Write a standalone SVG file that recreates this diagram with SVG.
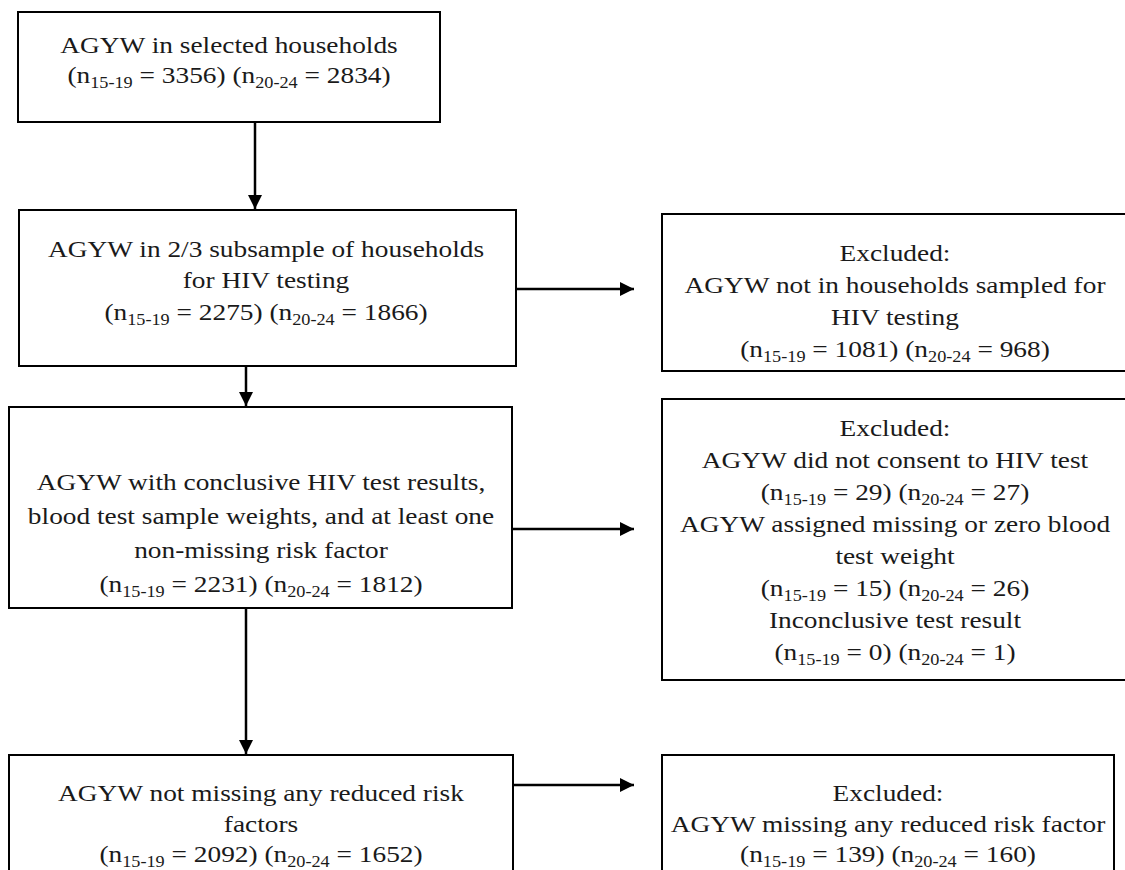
<svg xmlns="http://www.w3.org/2000/svg" width="1125" height="870" viewBox="0 0 1125 870">
<defs>
<marker id="ah" markerWidth="14" markerHeight="14" refX="14" refY="7" orient="auto" markerUnits="userSpaceOnUse">
<path d="M0,0 L14,7 L0,14 Z" fill="#000"/>
</marker>
<style>
.box{fill:#fff;stroke:#000;stroke-width:2}
.t{font-family:"Liberation Serif","Times New Roman",serif;font-size:24px;fill:#1a1a1a;text-anchor:middle}
.s{font-size:16px}
.c{stroke:#000;stroke-width:2.5;fill:none;marker-end:url(#ah)}
</style>
</defs>
<rect width="1125" height="870" fill="#fff"/>
<g id="connectors">
<line class="c" x1="255" y1="122" x2="255" y2="209"/>
<line class="c" x1="516" y1="289" x2="634" y2="289"/>
<line class="c" x1="246" y1="366" x2="246" y2="406"/>
<line class="c" x1="512" y1="529" x2="634" y2="529"/>
<line class="c" x1="246" y1="608" x2="246" y2="754"/>
<line class="c" x1="513" y1="785" x2="634" y2="785"/>
</g>
<g id="n1">
<rect class="box" x="18" y="12" width="422" height="110"/>
<text class="t" transform="translate(229,53) scale(1.14,1)">AGYW in selected households</text>
<text class="t" transform="translate(229,83) scale(1.14,1)">(n<tspan class="s" dy="5">15-19</tspan><tspan dy="-5"> = 3356) (n</tspan><tspan class="s" dy="5">20-24</tspan><tspan dy="-5"> = 2834)</tspan></text>
</g>
<g id="n2">
<rect class="box" x="19" y="210" width="497" height="156"/>
<text class="t" transform="translate(266,257) scale(1.14,1)">AGYW in 2/3 subsample of households</text>
<text class="t" transform="translate(266,288) scale(1.14,1)">for HIV testing</text>
<text class="t" transform="translate(266,320) scale(1.14,1)">(n<tspan class="s" dy="5">15-19</tspan><tspan dy="-5"> = 2275) (n</tspan><tspan class="s" dy="5">20-24</tspan><tspan dy="-5"> = 1866)</tspan></text>
</g>
<g id="n3">
<rect class="box" x="662" y="214" width="470" height="157"/>
<text class="t" transform="translate(895,261) scale(1.14,1)">Excluded:</text>
<text class="t" transform="translate(895,293) scale(1.14,1)">AGYW not in households sampled for</text>
<text class="t" transform="translate(895,325) scale(1.14,1)">HIV testing</text>
<text class="t" transform="translate(895,357) scale(1.14,1)">(n<tspan class="s" dy="5">15-19</tspan><tspan dy="-5"> = 1081) (n</tspan><tspan class="s" dy="5">20-24</tspan><tspan dy="-5"> = 968)</tspan></text>
</g>
<g id="n4">
<rect class="box" x="9" y="407" width="503" height="201"/>
<text class="t" transform="translate(261,490) scale(1.14,1)">AGYW with conclusive HIV test results,</text>
<text class="t" transform="translate(261,524) scale(1.14,1)">blood test sample weights, and at least one</text>
<text class="t" transform="translate(261,558) scale(1.14,1)">non-missing risk factor</text>
<text class="t" transform="translate(261,592) scale(1.14,1)">(n<tspan class="s" dy="5">15-19</tspan><tspan dy="-5"> = 2231) (n</tspan><tspan class="s" dy="5">20-24</tspan><tspan dy="-5"> = 1812)</tspan></text>
</g>
<g id="n5">
<rect class="box" x="662" y="399" width="470" height="281"/>
<text class="t" transform="translate(895,436) scale(1.14,1)">Excluded:</text>
<text class="t" transform="translate(895,468) scale(1.14,1)">AGYW did not consent to HIV test</text>
<text class="t" transform="translate(895,500) scale(1.14,1)">(n<tspan class="s" dy="5">15-19</tspan><tspan dy="-5"> = 29) (n</tspan><tspan class="s" dy="5">20-24</tspan><tspan dy="-5"> = 27)</tspan></text>
<text class="t" transform="translate(895,532) scale(1.14,1)">AGYW assigned missing or zero blood</text>
<text class="t" transform="translate(895,564) scale(1.14,1)">test weight</text>
<text class="t" transform="translate(895,596) scale(1.14,1)">(n<tspan class="s" dy="5">15-19</tspan><tspan dy="-5"> = 15) (n</tspan><tspan class="s" dy="5">20-24</tspan><tspan dy="-5"> = 26)</tspan></text>
<text class="t" transform="translate(895,628) scale(1.14,1)">Inconclusive test result</text>
<text class="t" transform="translate(895,660) scale(1.14,1)">(n<tspan class="s" dy="5">15-19</tspan><tspan dy="-5"> = 0) (n</tspan><tspan class="s" dy="5">20-24</tspan><tspan dy="-5"> = 1)</tspan></text>
</g>
<g id="n6">
<rect class="box" x="9" y="755" width="504" height="130"/>
<text class="t" transform="translate(261,801) scale(1.14,1)">AGYW not missing any reduced risk</text>
<text class="t" transform="translate(261,832) scale(1.14,1)">factors</text>
<text class="t" transform="translate(261,862) scale(1.14,1)">(n<tspan class="s" dy="5">15-19</tspan><tspan dy="-5"> = 2092) (n</tspan><tspan class="s" dy="5">20-24</tspan><tspan dy="-5"> = 1652)</tspan></text>
</g>
<g id="n7">
<rect class="box" x="662" y="755" width="452" height="130"/>
<text class="t" transform="translate(888,801) scale(1.14,1)">Excluded:</text>
<text class="t" transform="translate(888,832) scale(1.14,1)">AGYW missing any reduced risk factor</text>
<text class="t" transform="translate(888,862) scale(1.14,1)">(n<tspan class="s" dy="5">15-19</tspan><tspan dy="-5"> = 139) (n</tspan><tspan class="s" dy="5">20-24</tspan><tspan dy="-5"> = 160)</tspan></text>
</g>
</svg>
